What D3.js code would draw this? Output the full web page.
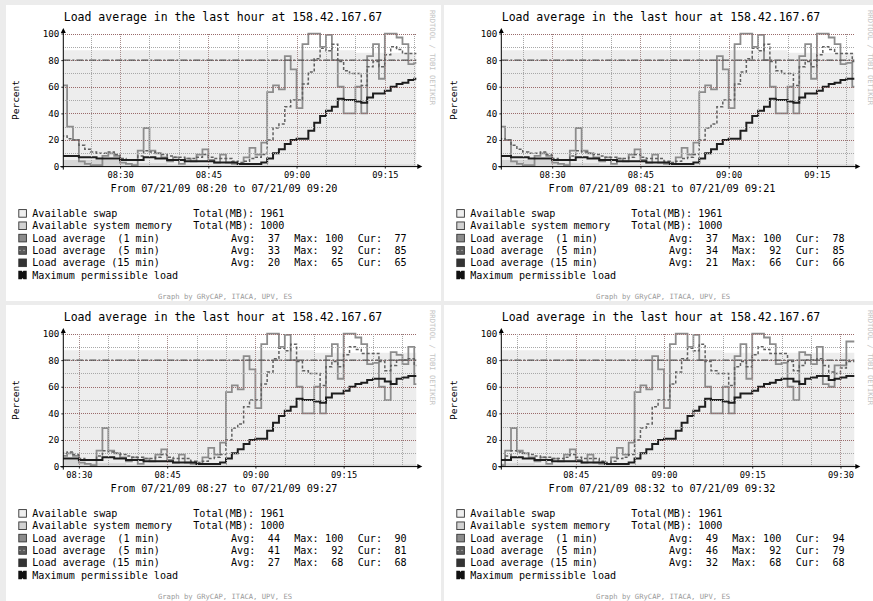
<!DOCTYPE html>
<meta charset="utf-8">
<head>
<title>Load average in the last hour</title>
<style>
body { margin: 0; background: #ececec; }
svg text { font-family: "DejaVu Sans Mono", monospace; }
</style>
</head>
<body>
<div id="chart"></div>
<script src="https://cdn.jsdelivr.net/npm/d3@7"></script>
<script>

// one sample per minute, starting 07/21/09 08:20 (percent)
var load1 = [61,30,20,4,2,1,1,8,10,8,
             3,2,1,12,29,12,10,7,4,7,
             2,6,4,9,13,5,3,9,3,2,
             2,7,14,9,18,56,61,58,83,73,
             44,92,100,100,90,99,80,60,40,40,
             60,40,83,92,66,100,100,97,92,77,
             78,60,50,86,84,77,90,62,60,76,
             76,94,94];
var load5 = [23,21,20,16,13,11,10,10,11,9,
             6,5,5,8,12,11,10,9,8,7,
             7,6,6,7,9,7,6,6,6,4,
             3,4,6,7,9,20,29,32,45,50,
             50,62,71,81,89,87,92,79,72,70,
             70,61,75,79,75,84,90,88,85,85,
             85,79,72,76,80,80,81,76,71,70,
             74,79,79];
var load15 = [8,8,8,7,7,7,6,6,6,6,
              5,5,5,5,7,7,6,6,5,5,
              5,4,4,4,4,4,3,3,3,3,
              2,2,2,2,3,6,10,13,17,20,
              21,21,27,33,38,42,45,51,50,50,
              49,48,52,55,55,57,60,62,63,65,
              66,66,64,62,66,67,68,68,65,66,
              67,68,68];
// areas: minute where the level starts, level in percent
var swapAt = [0, 50], swapLevel = [87.5, 85.5];
var memAt = [0, 10, 18], memLevel = [5, 2.5, 1.5];
var maxLoad = 80;

// the four graphs: first minute shown (after 08:20)
var panelStart = [0, 1, 7, 12];
var panelPos = [[0, 0], [438, 0], [0, 300], [438, 300]];

// legend numbers printed by each graph
var avg1 = [37, 37, 44, 49], max1 = [100, 100, 100, 100], cur1 = [77, 78, 90, 94];
var avg5 = [33, 34, 41, 46], max5 = [92, 92, 92, 92], cur5 = [85, 85, 81, 79];
var avg15 = [20, 21, 27, 32], max15 = [65, 66, 68, 68], cur15 = [65, 66, 68, 68];
var swapTotal = 1961, memTotal = 1000;

var yTicks = [0, 20, 40, 60, 80, 100];

var t0 = new Date(2009, 6, 21, 8, 20);
function minute(m) { return new Date(t0.getTime() + m * 60000); }
var fmtTick = d3.timeFormat("%H:%M"),
    fmtFrom = d3.timeFormat("%m/%d/%y %H:%M");
function pre(s) { return s.replace(/ /g, "\u00a0"); }
function px(v) { return Math.round(v) + 0.5; }

var plotL = 63.3, plotR = 416.3, plotT = 33.5, plotB = 166.6;

var svg = d3.select("#chart").append("svg")
    .attr("width", 873).attr("height", 601);

panelStart.forEach(function(k, p) {
  var g = svg.append("g")
      .attr("transform", "translate(" + panelPos[p][0] + "," + panelPos[p][1] + ")");

  g.append("rect").attr("x", 6).attr("y", 5).attr("width", 435).attr("height", 296)
      .attr("fill", "#fff");

  var x = d3.scaleTime()
      .domain([minute(k + 0.35), minute(k + 60.35)])
      .range([plotL, plotR]);
  var y = d3.scaleLinear().domain([0, 100]).range([plotB, plotT]);

  g.append("clipPath").attr("id", "clip" + p)
    .append("rect").attr("x", plotL).attr("y", plotT - 1)
      .attr("width", plotR - plotL).attr("height", plotB - plotT + 1);
  var plot = g.append("g").attr("clip-path", "url(#clip" + p + ")");

  function series(vals) {
    var pts = [];
    for (var i = k; i <= k + 60; i++) pts.push([minute(i), vals[i]]);
    pts.push([minute(k + 61), vals[k + 60]]);
    return pts;
  }
  function levels(at, lv) {
    var pts = at.map(function(t, i) { return [minute(t), lv[i]]; });
    pts.push([minute(90), lv[lv.length - 1]]);
    return pts;
  }

  var area = d3.area().curve(d3.curveStepAfter)
      .x(function(d) { return x(d[0]); })
      .y0(y(0))
      .y1(function(d) { return y(d[1]); });
  var line = d3.line().curve(d3.curveStepAfter)
      .x(function(d) { return x(d[0]); })
      .y(function(d) { return y(d[1]); });

  plot.append("path").attr("d", area(levels(swapAt, swapLevel))).attr("fill", "#ededed");
  plot.append("path").attr("d", area(levels(memAt, memLevel))).attr("fill", "#d6d6d6");

  // grid, dotted, major lines reddish
  var grid = g.append("g").attr("shape-rendering", "crispEdges");
  d3.range(10, 101, 10).forEach(function(v) {
    grid.append("line")
        .attr("x1", plotL).attr("x2", plotR)
        .attr("y1", px(y(v))).attr("y2", px(y(v)))
        .attr("stroke", v % 20 === 0 ? "#9a6a6a" : "#a8a8a8")
        .attr("stroke-dasharray", "1,1");
  });
  x.ticks(d3.timeMinute.every(5)).forEach(function(t) {
    var major = t.getMinutes() % 15 === 0;
    grid.append("line")
        .attr("x1", px(x(t))).attr("x2", px(x(t)))
        .attr("y1", plotT).attr("y2", plotB)
        .attr("stroke", major ? "#a88c8c" : "#a8a8a8")
        .attr("stroke-dasharray", "1,1");
  });

  plot.append("path").attr("d", line(series(load1)))
      .attr("fill", "none").attr("stroke", "#8c8c8c").attr("stroke-width", 1.8);
  plot.append("path").attr("d", line(series(load5)))
      .attr("fill", "none").attr("stroke", "#606060").attr("stroke-width", 1.5)
      .attr("stroke-dasharray", "3,2");
  plot.append("path").attr("d", line(series(load15)))
      .attr("fill", "none").attr("stroke", "#1e1e1e").attr("stroke-width", 2);

  g.append("line")
      .attr("x1", plotL).attr("x2", plotR)
      .attr("y1", y(maxLoad)).attr("y2", y(maxLoad))
      .attr("stroke", "#555").attr("stroke-width", 1.3)
      .attr("stroke-dasharray", "7,2,2,2");

  // axes
  var xAxis = g.append("g").attr("transform", "translate(0," + plotB + ")")
      .call(d3.axisBottom(x)
          .tickValues(x.ticks(d3.timeMinute.every(15)))
          .tickFormat(fmtTick).tickSize(2).tickPadding(3.5));
  var yAxis = g.append("g").attr("transform", "translate(" + plotL + ",0)")
      .call(d3.axisLeft(y).tickValues(yTicks).tickSize(2).tickPadding(2));
  [xAxis, yAxis].forEach(function(a) {
    a.select(".domain").remove();
    a.selectAll("text").attr("font-family", "DejaVu Sans Mono").attr("fill", "#000");
    a.selectAll("line").attr("stroke", "#333");
  });
  xAxis.selectAll("text").attr("font-size", "8.7px");
  yAxis.selectAll("text").attr("font-size", "9.2px");

  g.append("line").attr("x1", plotL - 3).attr("x2", plotR + 2)
      .attr("y1", plotB).attr("y2", plotB).attr("stroke", "#000");
  g.append("line").attr("x1", plotL).attr("x2", plotL)
      .attr("y1", plotB + 3).attr("y2", plotT - 2).attr("stroke", "#000");
  g.append("path")
      .attr("d", "M" + (plotR + 6) + "," + plotB + "l-5,-2.5v5z").attr("fill", "#000");
  g.append("path")
      .attr("d", "M" + plotL + "," + (plotT - 5.5) + "l-2.5,5h5z").attr("fill", "#000");

  // texts
  g.append("text").attr("x", 223).attr("y", 20.8)
      .attr("text-anchor", "middle").attr("font-size", "11.5px")
      .text("Load average in the last hour at 158.42.167.67");
  g.append("text")
      .attr("transform", "translate(15.5,100) rotate(-90)")
      .attr("dy", "0.35em").attr("text-anchor", "middle").attr("font-size", "9.5px")
      .text("Percent");
  g.append("text")
      .attr("transform", "translate(432.5,10) rotate(90)")
      .attr("dy", "0.35em").attr("font-size", "7.2px").attr("fill", "#c4c4c4")
      .text("RRDTOOL / TOBI OETIKER");
  g.append("text").attr("x", 224).attr("y", 192)
      .attr("text-anchor", "middle").attr("font-size", "10.2px")
      .text("From " + fmtFrom(minute(k)) + " to " + fmtFrom(minute(k + 60)));
  g.append("text").attr("x", 225).attr("y", 298.5)
      .attr("text-anchor", "middle").attr("font-size", "7.2px").attr("fill", "#9a9a9a")
      .text("Graph by GRyCAP, ITACA, UPV, ES");

  // legend
  var rows = [
    {label: "Available swap", fill: "#efefef", total: swapTotal},
    {label: "Available system memory", fill: "#d2d2d2", total: memTotal},
    {label: "Load average  (1 min)", fill: "#8c8c8c", stats: [avg1[p], max1[p], cur1[p]]},
    {label: "Load average  (5 min)", fill: "#5c5c5c", stats: [avg5[p], max5[p], cur5[p]]},
    {label: "Load average (15 min)", fill: "#333", stats: [avg15[p], max15[p], cur15[p]]},
    {label: "Maximum permissible load", fill: "#111"}
  ];
  rows.forEach(function(r, i) {
    var cy = 213.3 + 12.35 * i;
    var row = g.append("g").attr("font-size", "10.1px");
    if (i === 5) {
      row.append("path")
          .attr("d", "M18.3," + (cy - 4.2) + "h3.5l0.8,1.2l0.8,-1.2h3.3v8.4h-3.3l-0.8,-1.2l-0.8,1.2h-3.5z")
          .attr("fill", r.fill);
    } else {
      row.append("rect").attr("x", 18.8).attr("y", cy - 3.7).attr("width", 7.6).attr("height", 7.6)
          .attr("fill", r.fill).attr("stroke", "#333").attr("stroke-width", 0.9);
      if (i === 3) {
        row.append("line").attr("x1", 19).attr("x2", 26.2).attr("y1", cy).attr("y2", cy)
            .attr("stroke", "#999").attr("stroke-dasharray", "2,2");
      }
    }
    row.append("text").attr("x", 32.3).attr("y", cy + 3.6).text(pre(r.label));
    if (r.total !== undefined) {
      row.append("text").attr("x", 193.3).attr("y", cy + 3.6).text(pre("Total(MB): " + r.total));
    }
    if (r.stats) {
      [["Avg:", 231, 280], ["Max:", 294.3, 343.3], ["Cur:", 357.7, 406.7]].forEach(function(c, j) {
        row.append("text").attr("x", c[1]).attr("y", cy + 3.6).text(c[0]);
        row.append("text").attr("x", c[2]).attr("y", cy + 3.6)
            .attr("text-anchor", "end").text(r.stats[j]);
      });
    }
  });
});
</script>
</body>
